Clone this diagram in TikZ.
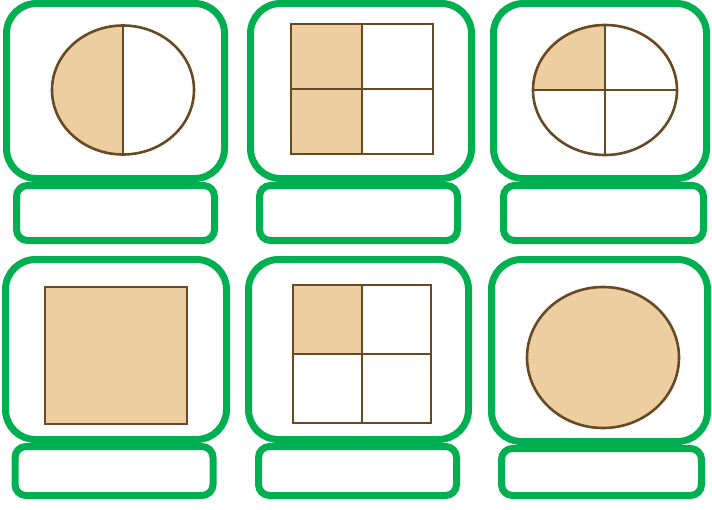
\documentclass[tikz,border=0pt]{standalone}
\usetikzlibrary{positioning}
\definecolor{cardgreen}{RGB}{0,176,80}
\definecolor{piefill}{RGB}{237,206,160}
\definecolor{pieline}{RGB}{105,72,36}

\begin{document}
\begin{tikzpicture}[x=1pt, y=-1pt,
          card/.style = {draw=cardgreen, line width=7pt, rounded corners=30pt,
                         minimum width=219pt, minimum height=175pt, inner sep=0pt},
          answer/.style = {draw=cardgreen, line width=7pt, rounded corners=11pt,
                           fill=white, minimum width=198pt, minimum height=55pt,
                           inner sep=0pt},
          part/.style = {draw=pieline, line width=2.6pt}]
        \useasboundingbox (0,0) rectangle (712,509);
        % top row
        \node[card, minimum width=218pt] (card1) at (115.5,91) {};
        \node[card, minimum width=221pt] (card2) at (361,91) {};
        \node[card, minimum width=213pt] (card3) at (600,91) {};
        \node[answer, below=0pt of card1] (ans1) {};
        \node[answer, below=0pt of card2, xshift=-2.5pt] (ans2) {};
        \node[answer, minimum width=200pt, below=0pt of card3, xshift=3.5pt] (ans3) {};
        % bottom row
        \node[card, minimum height=180pt, minimum width=221pt] (card4) at (116,349.5) {};
        \node[card, minimum height=180pt, minimum width=220pt] (card5) at (358.5,349.5) {};
        \node[card, minimum height=182pt, minimum width=216pt] (card6) at (599.5,350.5) {};
        \node[answer, minimum height=49pt, below=0pt of card4, xshift=-2pt] (ans4) {};
        \node[answer, minimum height=49pt, below=0pt of card5, xshift=-1pt] (ans5) {};
        \node[answer, minimum height=47pt, minimum width=200pt, below=0pt of card6, xshift=2pt] (ans6) {};

        % one half of a circle
        \coordinate (c1) at (123,90);
        \begin{scope}
          \clip (c1) ellipse [x radius=71, y radius=64.5];
          \fill[piefill] (50,20) rectangle (c1 |- 0,160);
        \end{scope}
        \draw[part] (c1) ellipse [x radius=71, y radius=64.5];
        \draw[part] (123,25.5) -- (123,154.5);

        % two quarters of a square
        \fill[piefill] (291,24) rectangle (362,154);
        \draw[part] (291,24) rectangle (433,154);
        \draw[part] (362,24) -- (362,154) (291,89) -- (433,89);

        % one quarter of a circle
        \coordinate (c3) at (605,90);
        \begin{scope}
          \clip (c3) ellipse [x radius=72, y radius=65];
          \fill[piefill] (530,20) rectangle (c3);
        \end{scope}
        \draw[part] (c3) ellipse [x radius=72, y radius=65];
        \draw[part] (605,25) -- (605,155) (533,90) -- (677,90);

        % whole square
        \draw[part, fill=piefill] (45,287) rectangle (187,424);

        % one quarter of a square
        \fill[piefill] (293,285) rectangle (362,354);
        \draw[part] (293,285) rectangle (431,423);
        \draw[part] (362,285) -- (362,423) (293,354) -- (431,354);

        % whole circle
        \draw[part, fill=piefill] (603,357.5) ellipse [x radius=76, y radius=70.5];
      \end{tikzpicture}
\end{document}
